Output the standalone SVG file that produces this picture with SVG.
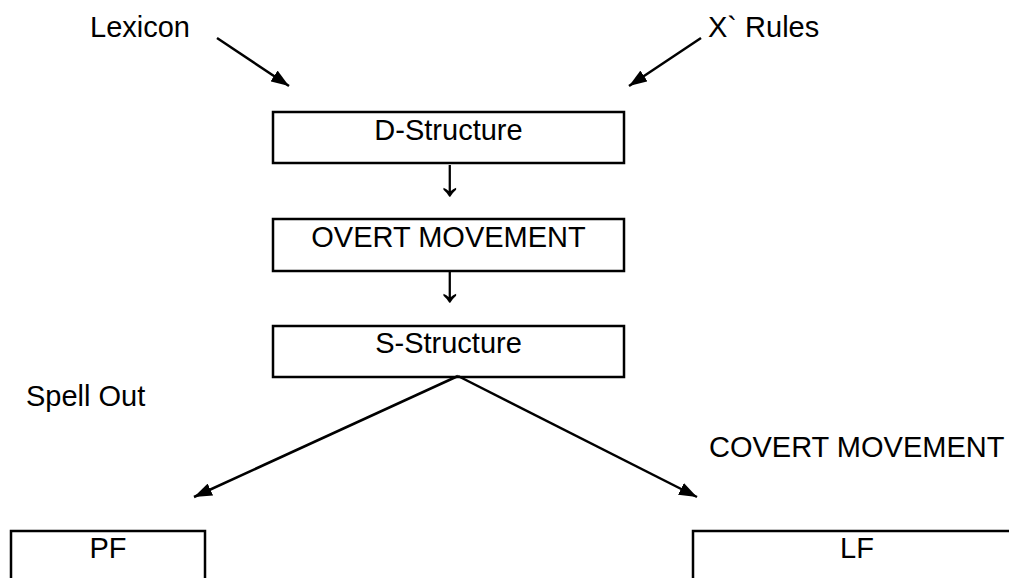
<svg xmlns="http://www.w3.org/2000/svg" width="1009" height="578" viewBox="0 0 1009 578">
<style>
text{font-family:"Liberation Sans",Arial,sans-serif;font-size:29px;fill:#000}
.box{fill:#fff;stroke:#000;stroke-width:2.5}
.c{stroke:#000;stroke-width:2.5;fill:none}
.m{text-anchor:middle}
.ar{font-family:"Liberation Serif","DejaVu Serif",serif;font-size:54px;fill:#000}
</style>
<defs>
<marker id="ah" viewBox="0 0 18 13" refX="18" refY="6.5" markerWidth="18" markerHeight="13" markerUnits="userSpaceOnUse" orient="auto">
<path d="M0,0 L18,6.5 L0,13 Z" fill="#000"/>
</marker>
</defs>
<rect width="1009" height="578" fill="#fff"/>
<g id="lexicon"><text x="90" y="37">Lexicon</text></g>
<g id="xrules"><text x="708" y="37">X` Rules</text></g>
<g id="dstructure"><rect class="box" x="273" y="112" width="351" height="51"/><text class="m" x="448.5" y="140">D-Structure</text></g>
<g id="overt"><rect class="box" x="273" y="219" width="351" height="52"/><text class="m" x="448.5" y="247">OVERT MOVEMENT</text></g>
<g id="sstructure"><rect class="box" x="273" y="326" width="351" height="51"/><text class="m" x="448.5" y="353">S-Structure</text></g>
<g id="spellout"><text x="26" y="406">Spell Out</text></g>
<g id="covert"><text x="709" y="457">COVERT MOVEMENT</text></g>
<g id="pf"><rect class="box" x="11" y="531" width="194" height="60"/><text class="m" x="108" y="558">PF</text></g>
<g id="lf"><rect class="box" x="693" y="531" width="330" height="60"/><text class="m" x="857" y="558">LF</text></g>
<g id="connectors">
<line class="c" x1="217" y1="38" x2="289" y2="86" marker-end="url(#ah)"/>
<line class="c" x1="701" y1="38" x2="629" y2="86" marker-end="url(#ah)"/>
<text class="ar m" x="450" y="195">↓</text>
<text class="ar m" x="450" y="301">↓</text>
<line class="c" x1="458" y1="376" x2="194" y2="497" marker-end="url(#ah)"/>
<line class="c" x1="458" y1="376" x2="697" y2="497" marker-end="url(#ah)"/>
</g>
</svg>
